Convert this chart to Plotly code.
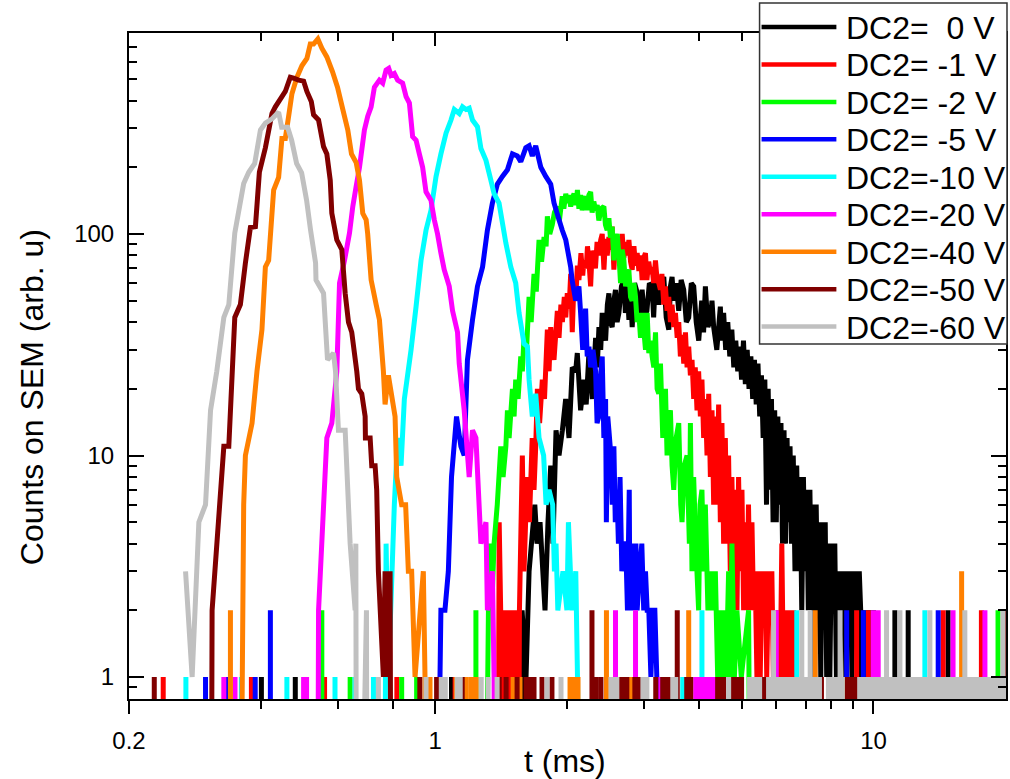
import plotly.graph_objects as go

# ---------------- data (t in ms, counts) ----------------
labels = ["DC2=\u00a0\u00a00 V", "DC2= -1 V", "DC2= -2 V", "DC2= -5 V", "DC2=-10 V",
          "DC2=-20 V", "DC2=-40 V", "DC2=-50 V", "DC2=-60 V"]
colors = ["#000000", "#ff0000", "#00ff00", "#0000ff", "#00ffff",
          "#ff00ff", "#ff8000", "#800000", "#c0c0c0"]

body_0V = [(1.553,0),(1.578,2),(1.611,1),(1.637,3),(1.687,6),(1.707,4),(1.734,5),(1.780,2),(1.808,5),
           (1.834,9),(1.856,4),(1.886,13),(1.916,10),(1.950,13),(1.984,18),(2.019,12),(2.054,25),(2.091,24),
           (2.109,29),(2.146,16),(2.184,22),(2.210,17),(2.242,29),(2.282,18),(2.322,34),(2.342,25),(2.363,38),
           (2.385,30),(2.404,44),(2.447,33),(2.470,48),(2.490,54),(2.510,40),(2.533,38),(2.555,50),(2.578,56),
           (2.600,40),(2.624,44),(2.660,58),(2.694,62),(2.715,44),(2.740,58),(2.766,41),(2.790,55),(2.814,38),
           (2.850,60),(2.884,55),(2.925,40),(2.965,56),(3.000,42),(3.040,45),(3.080,60),(3.124,58),(3.150,42),
           (3.180,64),(3.237,48),(3.280,60),(3.322,64),(3.365,42),(3.411,37),(3.440,58),(3.470,64),(3.501,50),
           (3.545,60),(3.594,45),(3.640,62),(3.689,56),(3.740,40),(3.787,42),(3.840,60),(3.888,58),(3.940,40),
           (3.992,33),(4.055,50),(4.095,36),(4.134,58),(4.190,38),(4.244,41),(4.280,50),(4.318,38),(4.390,30),
           (4.472,47),(4.50,33),(4.55,44),(4.60,30),(4.65,40),(4.70,28),(4.75,37),(4.80,25),(4.85,33),(4.90,24),
           (4.95,31),(5.00,22),(5.05,33),(5.10,21),(5.15,30),(5.20,20),(5.25,28),(5.30,18),(5.35,27),(5.40,17),
           (5.45,26),(5.50,15),(5.55,23),(5.60,12),(5.65,22),(5.70,6),(5.75,20),(5.80,7),(5.85,18),(5.90,5),
           (5.95,16),(6.00,5),(6.05,15),(6.10,6),(6.15,14),(6.20,4),(6.25,13),(6.30,4),(6.35,12),(6.40,5),
           (6.45,11),(6.50,4),(6.56,10),(6.62,3),(6.68,9),(6.74,3),(6.80,8),(6.86,2),(6.92,8),(6.98,3),(7.04,7),
           (7.10,2),(7.16,7),(7.22,2),(7.28,6),(7.34,1),(7.40,6),(7.46,2),(7.52,5),(7.58,1),(7.64,5),(7.70,2),
           (7.76,5),(7.82,1),(7.88,4),(7.95,1),(8.02,4),(8.09,2),(8.16,4),(8.23,1),(8.30,3),(8.37,1),(8.44,3),
           (8.51,2),(8.58,3),(8.65,1),(8.72,3),(8.79,2),(8.86,3),(8.93,1),(9.00,3),(9.07,2),(9.14,3),(9.21,1),
           (9.28,3),(9.35,2),(9.43,1),(9.51,2),(9.59,1),(9.67,2),(9.75,1),(9.83,2),(9.92,1),(10.00,2),(10.10,0)]
ones_0V = [0.4010, 0.4792, 1.089, 10.53]
twos_0V = [11.19, 12.00, 14.80]

body_1V = [(1.384,0),(1.399,5),(1.410,2),(1.420,0),(1.440,2),(1.450,0),(1.470,2),(1.480,0),(1.500,2),
           (1.510,0),(1.530,2),(1.540,0),(1.556,2),(1.580,10),(1.594,3),(1.620,8),(1.640,5),(1.664,12),
           (1.680,7),(1.695,11),(1.710,20),(1.730,14),(1.755,22),(1.775,18),(1.802,37),(1.818,24),(1.834,38),
           (1.850,30),(1.866,27),(1.899,45),(1.916,34),(1.935,48),(1.950,40),(1.970,52),(1.985,42),(2.001,54),
           (2.020,46),(2.037,66),(2.054,36),(2.072,60),(2.091,50),(2.110,72),(2.127,62),(2.150,82),(2.170,65),
           (2.184,76),(2.210,70),(2.225,88),(2.242,75),(2.262,58),(2.280,84),(2.301,79),(2.320,70),(2.340,92),
           (2.363,80),(2.385,94),(2.404,100),(2.426,69),(2.445,95),(2.468,80),(2.490,97),(2.513,85),
           (2.533,108),(2.556,69),(2.578,95),(2.601,80),(2.624,97),(2.648,82),(2.670,100),(2.694,78),
           (2.718,92),(2.740,80),(2.766,94),(2.790,75),(2.814,69),(2.840,88),(2.864,72),(2.889,82),(2.915,68),
           (2.941,80),(2.965,62),(2.990,78),(3.017,82),(3.040,62),(3.070,75),(3.098,66),(3.124,71),(3.150,60),
           (3.180,76),(3.208,62),(3.237,60),(3.264,56),(3.290,66),(3.322,48),(3.351,58),(3.380,45),(3.410,52),
           (3.441,40),(3.470,48),(3.500,38),(3.532,44),(3.565,34),(3.594,40),(3.625,28),(3.657,35),(3.690,26),
           (3.723,36),(3.755,25),(3.787,31),(3.821,23),(3.854,27),(3.888,18),(3.920,25),(3.956,16),(3.990,24),
           (4.027,15),(4.060,22),(4.097,12),(4.134,18),(4.170,10),(4.207,19),(4.244,8),(4.281,16),(4.318,6),
           (4.355,15),(4.393,6),(4.432,17),(4.472,5),(4.510,14),(4.550,4),(4.591,12),(4.629,4),(4.670,10),
           (4.712,3),(4.752,8),(4.795,3),(4.837,7),(4.880,2),(4.922,8),(4.966,3),(5.010,7),(5.054,2),(5.098,5),
           (5.140,2),(5.185,6),(5.234,2),(5.280,5),(5.325,2),(5.370,3),(5.420,1),(5.467,3),(5.515,1),(5.563,3),
           (5.610,2),(5.660,3),(5.707,1),(5.760,3),(5.810,2),(5.862,3),(5.910,1),(5.965,2),(6.018,1),(6.072,2),
           (6.125,1),(6.177,4),(6.230,1),(6.288,2),(6.340,1),(6.399,1),(6.455,2),(6.511,1),(6.570,2),(6.627,1),
           (6.70,0)]
ones_1V = [0.2394, 0.3805, 0.5589, 0.8172, 1.11]
twos_1V = [9.152, 9.732, 14.42, 17.63]

body_2V = [(1.286,0),(1.327,4),(1.345,2),(1.362,4),(1.385,6),(1.411,11),(1.428,8),(1.449,11),(1.461,16),
           (1.474,12),(1.500,20),(1.513,15),(1.526,22),(1.545,18),(1.567,28),(1.580,24),(1.594,34),(1.615,30),
           (1.637,52),(1.655,40),(1.680,66),(1.700,55),(1.725,94),(1.748,75),(1.771,97),(1.790,88),(1.802,120),
           (1.825,100),(1.849,110),(1.870,125),(1.898,133),(1.920,115),(1.949,148),(1.965,130),(1.985,152),
           (2.001,138),(2.020,150),(2.037,133),(2.055,145),(2.073,152),(2.095,135),(2.110,158),(2.127,130),
           (2.145,150),(2.164,128),(2.185,140),(2.203,148),(2.225,128),(2.242,150),(2.262,155),(2.280,125),
           (2.300,140),(2.322,128),(2.342,135),(2.362,115),(2.390,130),(2.425,133),(2.445,110),(2.467,104),
           (2.490,118),(2.510,96),(2.533,108),(2.556,76),(2.578,95),(2.601,100),(2.625,80),(2.647,60),
           (2.670,85),(2.694,76),(2.718,58),(2.741,66),(2.765,69),(2.790,52),(2.813,50),(2.840,60),(2.864,52),
           (2.888,40),(2.914,44),(2.940,34),(2.965,44),(2.991,37),(3.018,30),(3.044,44),(3.071,29),(3.098,33),
           (3.125,28),(3.153,25),(3.181,36),(3.208,20),(3.236,19),(3.265,26),(3.305,12),(3.330,18),(3.352,20),
           (3.380,10),(3.410,15),(3.440,16),(3.470,9),(3.501,7),(3.545,12),(3.594,14),(3.632,6),(3.657,5),
           (3.700,9),(3.754,10),(3.800,4),(3.821,14),(3.853,3),(3.887,8),(3.930,4),(3.990,2),(4.020,6),
           (4.060,7),(4.100,3),(4.133,6),(4.190,2),(4.243,3),(4.295,2),(4.356,3),(4.410,1),(4.471,2),(4.510,1),
           (4.550,2),(4.610,1),(4.671,3),(4.710,1),(4.753,4),(4.815,1),(4.879,2),(4.993,1),(5.188,2),(5.271,0)]
ones_2V = [0.6393, 0.8381, 0.9067, 1.17]
twos_2V = [0.5509, 1.238, 19.24]

body_5V = [(1.020,0),(1.025,1),(1.030,2),(1.052,2),(1.071,3),(1.089,8),(1.118,15),(1.144,11),(1.164,10),
           (1.184,27),(1.216,41),(1.248,58),(1.282,71),(1.315,104),(1.350,138),(1.386,168),(1.423,182),
           (1.461,195),(1.500,230),(1.539,225),(1.567,212),(1.609,245),(1.637,250),(1.665,225),(1.695,250),
           (1.741,200),(1.787,182),(1.834,168),(1.866,138),(1.916,116),(1.949,104),(1.985,94),(2.037,71),
           (2.052,62),(2.091,50),(2.127,58),(2.146,44),(2.170,30),(2.203,46),(2.222,28),(2.242,31),(2.262,25),
           (2.290,30),(2.322,24),(2.340,14),(2.362,15),(2.380,22),(2.404,28),(2.425,12),(2.447,18),(2.457,5),
           (2.475,15),(2.490,13),(2.516,10),(2.535,6),(2.556,11),(2.575,5),(2.597,7),(2.618,4),(2.640,8),
           (2.665,3),(2.694,4),(2.720,4),(2.745,2),(2.771,7),(2.780,2),(2.810,4),(2.840,2),(2.870,4),(2.888,2),
           (2.925,3),(2.960,4),(2.990,2),(3.018,3),(3.045,2),(3.071,2),(3.105,1),(3.140,2),(3.170,2),(3.203,1),
           (3.217,0)]
ones_5V = [0.2990, 0.3326, 0.3882]
twos_5V = [0.4204, 8.686, 9.480, 14.05]

body_10V = [(0.7613,0),(0.7722,4),(0.7816,1),(0.8064,6),(0.8207,12),(0.8353,9),(0.8500,18),(0.8804,30),
            (0.9039,47),(0.9278,76),(0.9524,104),(0.9777,128),(1.004,182),(1.030,230),(1.058,285),(1.086,327),
            (1.105,365),(1.134,350),(1.154,375),(1.175,365),(1.195,370),(1.216,327),(1.248,305),(1.271,243),
            (1.305,215),(1.339,175),(1.362,152),(1.398,138),(1.449,91),(1.487,71),(1.526,60),(1.553,44),
            (1.594,32),(1.623,31),(1.637,22),(1.665,15),(1.695,19),(1.725,12),(1.767,10),(1.790,6),(1.818,7),
            (1.853,6),(1.870,3),(1.886,4),(1.904,2),(1.956,3),(1.997,2),(2.013,5),(2.051,2),(2.092,3),(2.111,1),
            (2.162,0)]
ones_10V = [0.2697, 0.3610, 0.4585, 0.5904, 0.6557, 0.7226, 3.670]
twos_10V = [4.060, 6.683, 13.10]

body_20V = [(0.5368,0),(0.5415,2),(0.5656,12),(0.5806,14),(0.5961,24),(0.6046,60),(0.6206,76),(0.6371,101),
            (0.6482,133),(0.6598,164),(0.6714,200),(0.6891,295),(0.7013,340),(0.7138,375),(0.7262,460),
            (0.7455,495),(0.7586,480),(0.7722,550),(0.7829,560),(0.7926,520),(0.8064,530),(0.8207,495),
            (0.8423,480),(0.8577,417),(0.8727,390),(0.8878,275),(0.9039,265),(0.9196,230),(0.9357,200),
            (0.9524,155),(0.9777,142),(0.9948,116),(1.012,100),(1.030,82),(1.048,69),(1.076,58),(1.095,45),
            (1.124,36),(1.134,26),(1.164,16),(1.195,8),(1.216,13),(1.238,12),(1.271,4),(1.305,5),(1.315,2),
            (1.350,3),(1.362,1),(1.370,0)]
ones_20V = [0.3292, 0.3491, 0.5006, 0.5085, 1.62, 3.270, 3.929, 3.992, 4.055, 4.119, 4.184, 4.251, 4.318]
twos_20V = [2.578, 2.864, 6.00, 9.985, 10.25, 15.19, 17.96]

body_40V = [(0.3560,0),(0.3654,6),(0.3687,10),(0.3818,14),(0.3918,24),(0.4022,37),(0.4095,71),(0.4166,76),
            (0.4277,158),(0.4390,180),(0.4467,270),(0.4547,270),(0.4627,340),(0.4708,430),(0.4833,510),
            (0.4961,575),(0.5093,620),(0.5185,720),(0.5275,720),(0.5395,760),(0.5509,690),(0.5656,630),
            (0.5828,540),(0.5982,460),(0.6141,370),(0.6314,295),(0.6438,230),(0.6598,210),(0.6714,175),
            (0.6831,124),(0.6953,116),(0.7011,100),(0.7138,62),(0.7328,48),(0.7456,41),(0.7613,24),(0.7681,17),
            (0.7816,23),(0.8095,15),(0.8165,8),(0.8380,6),(0.8557,6),(0.8680,3),(0.8832,3),(0.8991,1),
            (0.9391,3),(0.9474,1),(0.9520,0)]
ones_40V = [0.9726, 1.045, 1.116, 1.176, 1.208, 1.240, 1.505, 1.561, 2.030, 2.073, 2.117, 2.795, 6.072,
            8.582, 13.83]
twos_40V = [0.3408, 2.458, 3.787, 7.360]
threes_40V = [15.89]

body_50V = [(0.3069,0),(0.3095,2),(0.3292,11),(0.3379,11),(0.3487,42),(0.3591,48),(0.3687,74),(0.3785,107),
            (0.3886,108),(0.3968,190),(0.4095,245),(0.4239,350),(0.4315,375),(0.4467,417),(0.4547,440),
            (0.4668,510),(0.4750,505),(0.4876,495),(0.5006,490),(0.5093,440),(0.5212,397),(0.5275,345),
            (0.5415,327),(0.5559,248),(0.5656,230),(0.5758,175),(0.5806,124),(0.5961,94),(0.6119,85),
            (0.6228,54),(0.6337,40),(0.6447,36),(0.6619,24),(0.6678,20),(0.6795,19),(0.6917,15),(0.6927,12),
            (0.7101,12),(0.7161,9),(0.7289,9),(0.7350,7),(0.7416,3),(0.7613,1),(0.7681,3),(0.7816,1),
            (0.7886,3),(0.7953,0)]
ones_50V = [0.2284, 0.9219, 1.007, 1.152, 1.399, 1.451, 1.537, 1.611, 1.645, 1.680, 1.752, 1.846, 2.325,
            2.388, 2.624, 2.679, 2.736, 2.854, 2.914, 3.185, 3.304, 3.374, 3.428, 3.748, 3.827, 4.409, 4.479,
            4.550, 4.794, 4.897, 5.000, 5.642, 7.069, 7.607, 8.718, 8.901, 9.090, 11.94, 17.97]
twos_50V = [2.278, 3.566, 19.93]

body_60V = [(0.2692,3),(0.2787,1),(0.2887,5),(0.2990,6),(0.3070,16),(0.3172,24),(0.3292,42),(0.3379,48),
            (0.3487,101),(0.3654,169),(0.3752,190),(0.3872,208),(0.3990,295),(0.4095,317),(0.4233,330),
            (0.4390,355),(0.4461,303),(0.4603,303),(0.4701,265),(0.4826,208),(0.4954,189),(0.5085,142),
            (0.5193,104),(0.5331,74),(0.5343,62),(0.5559,54),(0.5676,27),(0.5857,29),(0.5920,24),(0.6012,13),
            (0.6228,13),(0.6393,4),(0.6563,2),(0.6587,4),(0.6623,0),(0.6965,2),(0.7000,0)]
ones_60V = [0.7416, 0.9524, 1.032, 1.054, 1.122, 1.140, 1.273, 1.320, 1.384, 1.799, 1.936, 2.517, 2.556,
            2.596, 2.977, 3.040, 3.483, 3.538, 4.670, 5.214, 5.297, 5.409, 5.495, 5.762, 5.853, 6.040, 6.168,
            6.266, 6.365, 6.466, 6.568, 6.673, 6.779, 6.995, 7.295, 7.410, 7.528, 7.892, 8.017, 8.144, 8.273,
            8.492, 9.30, 9.42, 9.60, 9.72, 9.90, 10.05, 10.20, 10.38, 10.52, 10.90, 11.05, 11.25, 11.40, 11.60,
            11.80, 12.10, 12.30, 12.50, 12.70, 12.90, 13.15, 13.60, 13.90, 14.10, 14.30, 14.50, 14.70, 14.95,
            15.20, 15.40, 15.70, 15.90, 16.40, 16.70, 16.95, 17.20, 17.50, 17.80, 18.10, 18.30, 18.60, 18.95,
            19.20, 19.50, 20.00]
twos_60V = [5.915, 6.861, 7.171, 8.390, 10.71, 11.49, 13.45, 16.16, 19.75]

series = [
    (body_0V, ones_0V, twos_0V, []),
    (body_1V, ones_1V, twos_1V, []),
    (body_2V, ones_2V, twos_2V, []),
    (body_5V, ones_5V, twos_5V, []),
    (body_10V, ones_10V, twos_10V, []),
    (body_20V, ones_20V, twos_20V, []),
    (body_40V, ones_40V, twos_40V, threes_40V),
    (body_50V, ones_50V, twos_50V, []),
    (body_60V, ones_60V, twos_60V, []),
]

x_major = [0.2, 1, 10]
x_minor = [0.4, 0.6, 0.8, 2, 3, 4, 5, 6, 7, 8, 9]
y_major = [1, 10, 100]
y_minor = [0.9, 2, 3, 4, 5, 6, 7, 8, 9, 20, 30, 40, 50, 60, 70, 80, 90, 200, 300, 400, 500, 600, 700, 800]

# ---------------- styling ----------------
FONT = "Liberation Sans, Arial, sans-serif"
ZERO = 0.01          # empty bins drawn off-scale below the axis (as on a log plot)
LW = 5

W, H = 1010, 779
L, R, T, B = 129, 2, 33, 80
PW, PH = W - L - R, H - T - B


def px_x(px):
    return (px - L) / PW


def px_y(py):
    return (H - B - py) / PH


def build(body, ones, twos, threes):
    segs = [list(body)]
    for v, ts in ((1, ones), (2, twos), (3, threes)):
        for t in ts:
            segs.append([(t, 0), (t, v), (t, 0)])
    segs.sort(key=lambda s: s[0][0])
    pts = [p for s in segs for p in s]
    return [p[0] for p in pts], [p[1] if p[1] > 0 else ZERO for p in pts]


fig = go.Figure()
for (body, ones, twos, threes), lab, col in zip(series, labels, colors):
    xs, ys = build(body, ones, twos, threes)
    fig.add_trace(go.Scatter(x=xs, y=ys, mode="lines", name=lab, showlegend=False,
                             line=dict(color=col, width=LW, simplify=False)))

# invisible helper so the top (inside-tick) axis is drawn
fig.add_trace(go.Scatter(x=[1], y=[1], xaxis="x2", mode="markers", marker=dict(opacity=0),
                         showlegend=False, hoverinfo="skip"))

xr = [-0.69897, 1.3024]
yr = [-0.0993, 2.9074]
tickfont = dict(family=FONT, size=24, color="black")

fig.update_layout(
    width=W, height=H, margin=dict(l=L, r=R, t=T, b=B),
    paper_bgcolor="white", plot_bgcolor="white",
    font=dict(family=FONT, color="black"),
    showlegend=False,
    xaxis=dict(type="log", range=xr, tickvals=x_major, ticktext=["0.2", "1", "10"],
               ticks="outside", ticklen=13, tickwidth=2, tickcolor="black",
               showline=True, linewidth=2, linecolor="black", mirror=False,
               showgrid=False, zeroline=False, tickfont=tickfont, ticklabelstandoff=6,
               minor=dict(tickvals=x_minor, ticks="outside", ticklen=8, tickwidth=2,
                          tickcolor="black", showgrid=False)),
    xaxis2=dict(type="log", range=xr, overlaying="x", side="top", anchor="y",
                tickvals=x_major, ticks="inside", ticklen=13, tickwidth=2, tickcolor="black",
                showticklabels=False, showline=True, linewidth=2, linecolor="black",
                showgrid=False, zeroline=False,
                minor=dict(tickvals=x_minor, ticks="inside", ticklen=8, tickwidth=2,
                           tickcolor="black", showgrid=False)),
    yaxis=dict(type="log", range=yr, tickvals=y_major, ticktext=["1", "10", "100"],
               ticks="inside", ticklen=15, tickwidth=2, tickcolor="black",
               showline=True, linewidth=2, linecolor="black", mirror="ticks",
               showgrid=False, zeroline=False, tickfont=tickfont, ticklabelstandoff=8,
               minor=dict(tickvals=y_minor, ticks="inside", ticklen=8, tickwidth=2,
                          tickcolor="black", showgrid=False)),
)

# axis titles
fig.add_annotation(text="t (ms)", xref="paper", yref="paper", x=px_x(566), y=px_y(761),
                   xanchor="center", yanchor="middle", showarrow=False,
                   font=dict(family=FONT, size=32, color="black"))
fig.add_annotation(text="Counts on SEM (arb. u)", xref="paper", yref="paper", x=px_x(32), y=px_y(397),
                   xanchor="center", yanchor="middle", showarrow=False, textangle=-90,
                   font=dict(family=FONT, size=32, color="black"))

# legend box (drawn like the original: box at top right, overlapping the frame)
fig.add_shape(type="rect", xref="paper", yref="paper", x0=px_x(761), x1=px_x(1009),
              y0=px_y(344), y1=px_y(3), fillcolor="white",
              line=dict(color="#333333", width=1.5), layer="above")
row0, dy = 27, 37.45
for i, (lab, col) in enumerate(zip(labels, colors)):
    py = row0 + i * dy
    fig.add_shape(type="line", xref="paper", yref="paper", x0=px_x(763), x1=px_x(838),
                  y0=px_y(py), y1=px_y(py), line=dict(color=col, width=4.5), layer="above")
    fig.add_annotation(text=lab, xref="paper", yref="paper", x=px_x(846), y=px_y(py + 1),
                       xanchor="left", yanchor="middle", showarrow=False,
                       font=dict(family=FONT, size=32, color="black"))

# page has no default body margin, so the figure fills the window exactly
fig.write_html("out.html", config={"displayModeBar": False},
               post_script="document.body.style.margin='0px';")
